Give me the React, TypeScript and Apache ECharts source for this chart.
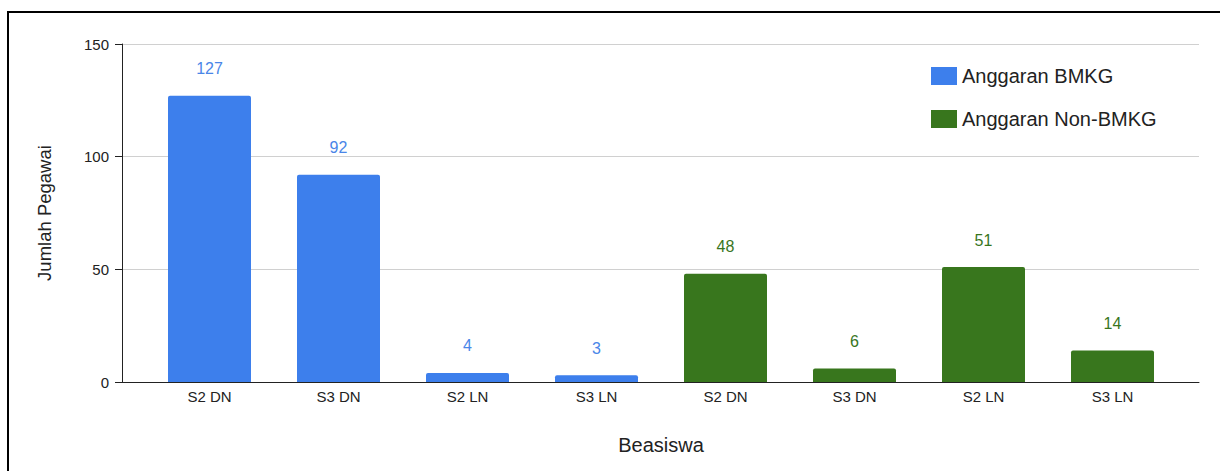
import React, { useEffect, useRef } from "react";
import * as echarts from "echarts";

const categories = ["S2 DN", "S3 DN", "S2 LN", "S3 LN", "S2 DN", "S3 DN", "S2 LN", "S3 LN"];
const bmkgValues = [127, 92, 4, 3, null, null, null, null];
const nonBmkgValues = [null, null, null, null, 48, 6, 51, 14];
const seriesNames = ["Anggaran BMKG", "Anggaran Non-BMKG"];
const yTitle = "Jumlah Pegawai";
const xTitle = "Beasiswa";

const BLUE = "#3d7fec";
const BLUE_LABEL = "#4a86e8";
const GREEN = "#38761d";
const FONT = "Arial, 'Liberation Sans', Helvetica, sans-serif";

export default function App() {
  const ref = useRef<HTMLDivElement>(null);
  useEffect(() => {
    if (!ref.current) return;
    const chart = echarts.init(ref.current, null, { renderer: "svg" });
    chart.setOption({
      animation: false,
      backgroundColor: "#ffffff",
      textStyle: { fontFamily: FONT },
      legend: {
        orient: "vertical",
        left: 926,
        top: 61,
        itemWidth: 26,
        itemHeight: 18,
        itemGap: 23,
        icon: "rect",
        textStyle: { fontSize: 20, color: "#222", fontFamily: FONT },
        data: seriesNames,
      },
      graphic: [
        {
          type: "rect",
          shape: { x: 8, y: 12, width: 1400, height: 600 },
          style: { fill: "none", stroke: "#000", lineWidth: 2 },
          silent: true,
        },
      ],
      grid: [
        { left: 122, right: 21, top: 44, bottom: 89 },
        { left: 145, right: 43, top: 44, bottom: 89 },
      ],
      xAxis: [
        {
          gridIndex: 0,
          type: "value",
          min: 0,
          max: 1,
          axisLine: { show: true, onZero: false, lineStyle: { color: "#222", width: 1 } },
          axisTick: { show: false },
          axisLabel: { show: false },
          splitLine: { show: false },
        },
        {
          gridIndex: 1,
          type: "category",
          data: categories,
          axisLine: { show: false },
          axisTick: { show: false },
          axisLabel: { fontSize: 15, color: "#222", margin: 7, fontFamily: FONT },
          name: xTitle,
          nameLocation: "middle",
          nameGap: 53,
          nameTextStyle: { fontSize: 20, color: "#222", fontFamily: FONT },
        },
      ],
      yAxis: [
        {
          gridIndex: 0,
          type: "value",
          min: 0,
          max: 150,
          interval: 50,
          axisLine: { show: true, lineStyle: { color: "#222", width: 1 } },
          axisTick: { show: true, length: 7, lineStyle: { color: "#222" } },
          axisLabel: { fontSize: 15, color: "#222", margin: 13, fontFamily: FONT },
          splitLine: { show: true, lineStyle: { color: "#d0d0d0", width: 1 } },
          name: yTitle,
          nameLocation: "middle",
          nameGap: 68,
          nameTextStyle: { fontSize: 18.5, color: "#222", fontFamily: FONT },
        },
        {
          gridIndex: 1,
          type: "value",
          min: 0,
          max: 150,
          interval: 50,
          show: false,
        },
      ],
      series: [
        {
          name: seriesNames[0],
          type: "bar",
          xAxisIndex: 1,
          yAxisIndex: 1,
          stack: "s",
          barWidth: 83,
          data: bmkgValues,
          itemStyle: { color: BLUE, borderRadius: [2, 2, 0, 0] },
          label: {
            show: true,
            position: "top",
            distance: 19,
            fontSize: 16,
            color: BLUE_LABEL,
            fontFamily: FONT,
          },
        },
        {
          name: seriesNames[1],
          type: "bar",
          xAxisIndex: 1,
          yAxisIndex: 1,
          stack: "s",
          barWidth: 83,
          data: nonBmkgValues,
          itemStyle: { color: GREEN, borderRadius: [2, 2, 0, 0] },
          label: {
            show: true,
            position: "top",
            distance: 19,
            fontSize: 16,
            color: GREEN,
            fontFamily: FONT,
          },
        },
      ],
    });
    return () => chart.dispose();
  }, []);
  return (
    <div
      ref={ref}
      style={{ position: "fixed", left: 0, top: 0, width: 1220, height: 471 }}
    />
  );
}
